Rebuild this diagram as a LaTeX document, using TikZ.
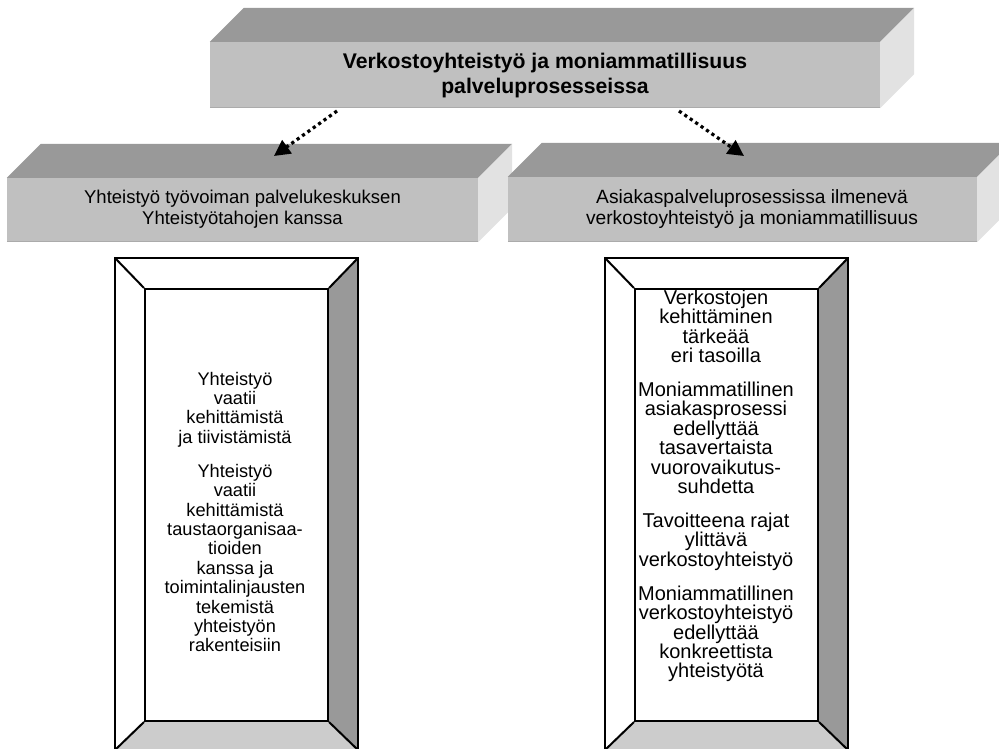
\documentclass[tikz,border=0pt]{standalone}
\usepackage{fontspec}
\setmainfont{Liberation Sans}
\usetikzlibrary{arrows.meta,calc}

\definecolor{slabtop}{HTML}{999999}
\definecolor{slabfront}{HTML}{C0C0C0}
\definecolor{slabside}{HTML}{E2E2E2}
\definecolor{slabedge}{HTML}{ABABAB}
\definecolor{bevdark}{HTML}{999999}
\definecolor{bevlight}{HTML}{CCCCCC}

\tikzset{
  slabfront/.style={fill=slabfront, draw=none, inner sep=0pt, align=center},
  frameinner/.style={draw=black, line width=2pt, fill=white, inner sep=0pt},
  frameline/.style={draw=black, line width=2pt},
  boxtext/.style={inner sep=0pt, align=center, text=black},
  link/.style={line width=3.2pt, dash pattern=on 3.2pt off 3.4pt,
    -{Triangle[length=16pt,width=16pt]}},
}

% a slab: front face node plus top and side faces
\newcommand\slabfaces[1]{%
  \fill[slabtop] (#1.north west) -- ++(34,-34) -- ($(#1.north east)+(34,-34)$)
    -- (#1.north east) -- cycle;
  \fill[slabside] (#1.north east) -- ++(34,-34) -- ($(#1.south east)+(34,-34)$)
    -- (#1.south east) -- cycle;
  \draw[slabedge, line width=1.5pt] ([yshift=0.75pt]#1.south west) -- ([yshift=0.75pt]#1.south east);
}

% a bevelled frame: outer corners (#1-nw, #1-se), inner node #1
\newcommand\bevelframe[1]{%
  \fill[bevdark] (#1-nw -| #1-se) -- (#1-se) -- (#1.south east) -- (#1.north east) -- cycle;
  \fill[bevlight] (#1-nw |- #1-se) -- (#1-se) -- (#1.south east) -- (#1.south west) -- cycle;
  \draw[frameline] (#1-nw) rectangle (#1-se);
  \draw[frameline] (#1-nw) -- (#1.north west);
  \draw[frameline] (#1-nw -| #1-se) -- (#1.north east);
  \draw[frameline] (#1-nw |- #1-se) -- (#1.south west);
  \draw[frameline] (#1-se) -- (#1.south east);
}

\begin{document}
\begin{tikzpicture}[x=1pt,y=-1pt]
\useasboundingbox (0,0) rectangle (999,749);
\clip (0,0) rectangle (999,749);

% slabs
\node[slabfront, minimum width=670pt, minimum height=66pt] (main) at (545,75) {};
\slabfaces{main}
\node[slabfront, minimum width=471pt, minimum height=64pt] (left) at (242.5,210) {};
\slabfaces{left}
\node[slabfront, minimum width=469pt, minimum height=65pt] (right) at (742.5,209.5) {};
\slabfaces{right}

\node[boxtext, font=\bfseries\fontsize{21.2}{25}\selectfont] (maintext) at (545,76)
  {Verkostoyhteistyö ja moniammatillisuus\\palveluprosesseissa};
\node[boxtext, font=\fontsize{18.5}{21.5}\selectfont] (lefttext) at (242.5,209)
  {Yhteistyö työvoiman palvelukeskuksen\\Yhteistyötahojen kanssa};
\node[boxtext, font=\fontsize{19.2}{21.5}\selectfont] (righttext) at (752,209)
  {Asiakaspalveluprosessissa ilmenevä\\verkostoyhteistyö ja moniammatillisuus};

% connectors
\coordinate (l1s) at (337,111);
\coordinate (l1e) at (274,156);
\coordinate (l2s) at (679,111);
\coordinate (l2e) at (744,156);
\draw[link] (l1s) -- (l1e);
\draw[link] (l2s) -- (l2e);

% bevelled frames
\coordinate (lf-nw) at (115,258);
\coordinate (lf-se) at (358,750);
\node[frameinner, minimum width=183pt, minimum height=432pt] (lf) at (236.5,505) {};
\bevelframe{lf}

\coordinate (rf-nw) at (605,258);
\coordinate (rf-se) at (848,750);
\node[frameinner, minimum width=183pt, minimum height=432pt] (rf) at (726.5,505) {};
\bevelframe{rf}

\node[boxtext, font=\fontsize{18.2}{19.4}\selectfont] (lftext) at (235,512)
  {Yhteistyö\\vaatii\\kehittämistä\\ja tiivistämistä\\[14.6pt]
   Yhteistyö\\vaatii\\kehittämistä\\taustaorganisaa-\\tioiden\\kanssa ja\\
   toimintalinjausten\\tekemistä\\yhteistyön\\rakenteisiin};
\node[boxtext, font=\fontsize{20}{19.4}\selectfont] (rftext) at (716,486)
  {Verkostojen\\kehittäminen\\tärkeää\\eri tasoilla\\[14.6pt]
   Moniammatillinen\\asiakasprosessi\\edellyttää\\tasavertaista\\vuorovaikutus-\\suhdetta\\[14.6pt]
   Tavoitteena rajat\\ylittävä\\verkostoyhteistyö\\[14.6pt]
   Moniammatillinen\\verkostoyhteistyö\\edellyttää\\konkreettista\\yhteistyötä};
\end{tikzpicture}
\end{document}
